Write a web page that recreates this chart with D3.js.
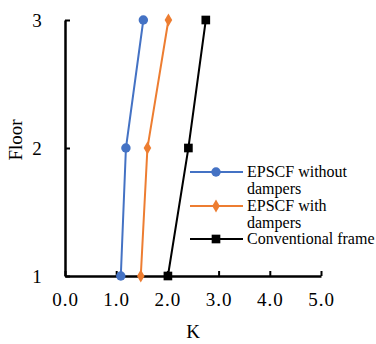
<!DOCTYPE html>
<html>
<head>
<meta charset="utf-8">
<script src="https://cdn.jsdelivr.net/npm/d3@7"></script>
<style>
  body { margin: 0; background: #fff; }
</style>
</head>
<body>
<div id="chart"></div>
<script>
// values
const floors = [1, 2, 3];
const withoutDampers = [1.09, 1.19, 1.53];
const withDampers = [1.48, 1.61, 2.02];
const conventional = [2.01, 2.41, 2.75];
const xTicks = [0, 1, 2, 3, 4, 5];
const seriesNames = ['EPSCF without|dampers', 'EPSCF with|dampers', 'Conventional frame'];

const width = 376, height = 344;
const serif = '"Liberation Serif", "Times New Roman", serif';

const svg = d3.select('#chart').append('svg')
    .attr('width', width)
    .attr('height', height)
    .style('font-family', serif);

const x = d3.scaleLinear().domain([0, 5]).range([65, 321]);
const y = d3.scaleLinear().domain([1, 3]).range([276, 20]);

const series = [
    { name: seriesNames[0], values: withoutDampers, color: '#4472C4', symbol: d3.symbolCircle, size: 70 },
    { name: seriesNames[1], values: withDampers, color: '#ED7D31', symbol: d3.symbolDiamond, size: 50 },
    { name: seriesNames[2], values: conventional, color: '#000000', symbol: d3.symbolSquare, size: 75 }
];

// axes
const xAxis = svg.append('g')
    .attr('transform', `translate(0,${y(1)})`)
    .call(d3.axisTop(x).tickValues(xTicks).tickSize(5).tickSizeOuter(0).tickFormat(d3.format('.1f')));
xAxis.attr('font-family', null);
xAxis.select('.domain').attr('stroke-width', 2.5);
xAxis.selectAll('.tick line').attr('stroke-width', 2);
xAxis.selectAll('.tick text')
    .attr('y', 30)
    .style('font-family', serif)
    .style('font-size', '19px')
    .style('letter-spacing', '1px');

const yAxis = svg.append('g')
    .attr('transform', `translate(${x(0)},0)`)
    .call(d3.axisRight(y).tickValues(floors).tickSize(5).tickSizeOuter(0).tickFormat(d3.format('d')));
yAxis.attr('font-family', null);
yAxis.select('.domain').attr('stroke-width', 2.5);
yAxis.selectAll('.tick line').attr('stroke-width', 2);
yAxis.selectAll('.tick text')
    .attr('x', -28)
    .attr('text-anchor', 'middle')
    .style('font-family', serif)
    .style('font-size', '19px');

svg.append('text')
    .attr('x', 193)
    .attr('y', 338)
    .attr('text-anchor', 'middle')
    .style('font-size', '19px')
    .text('K');

svg.append('text')
    .attr('transform', 'translate(22,140) rotate(-90)')
    .attr('text-anchor', 'middle')
    .style('font-size', '19px')
    .text('Floor');

// series
const line = d3.line()
    .x(d => x(d[0]))
    .y(d => y(d[1]));

series.forEach(s => {
    const pts = s.values.map((v, i) => [v, floors[i]]);
    svg.append('path')
        .datum(pts)
        .attr('fill', 'none')
        .attr('stroke', s.color)
        .attr('stroke-width', 2)
        .attr('d', line);
    svg.append('g')
        .selectAll('path')
        .data(pts)
        .enter().append('path')
        .attr('transform', d => `translate(${x(d[0])},${y(d[1])})`)
        .attr('d', d3.symbol().type(s.symbol).size(s.size))
        .attr('fill', s.color);
});

// legend
const legendY = [172, 206, 239];
const legend = svg.append('g');
series.forEach((s, i) => {
    const g = legend.append('g').attr('transform', `translate(0,${legendY[i]})`);
    g.append('line')
        .attr('x1', 190).attr('x2', 243)
        .attr('stroke', s.color)
        .attr('stroke-width', 2);
    g.append('path')
        .attr('transform', 'translate(216,0)')
        .attr('d', d3.symbol().type(s.symbol).size(s.size))
        .attr('fill', s.color);
    const t = g.append('text')
        .attr('x', 247)
        .attr('y', 5)
        .style('font-size', '16px');
    s.name.split('|').forEach((part, j) => {
        t.append('tspan')
            .attr('x', 247)
            .attr('dy', j === 0 ? 0 : 17)
            .text(part);
    });
});
</script>
</body>
</html>
